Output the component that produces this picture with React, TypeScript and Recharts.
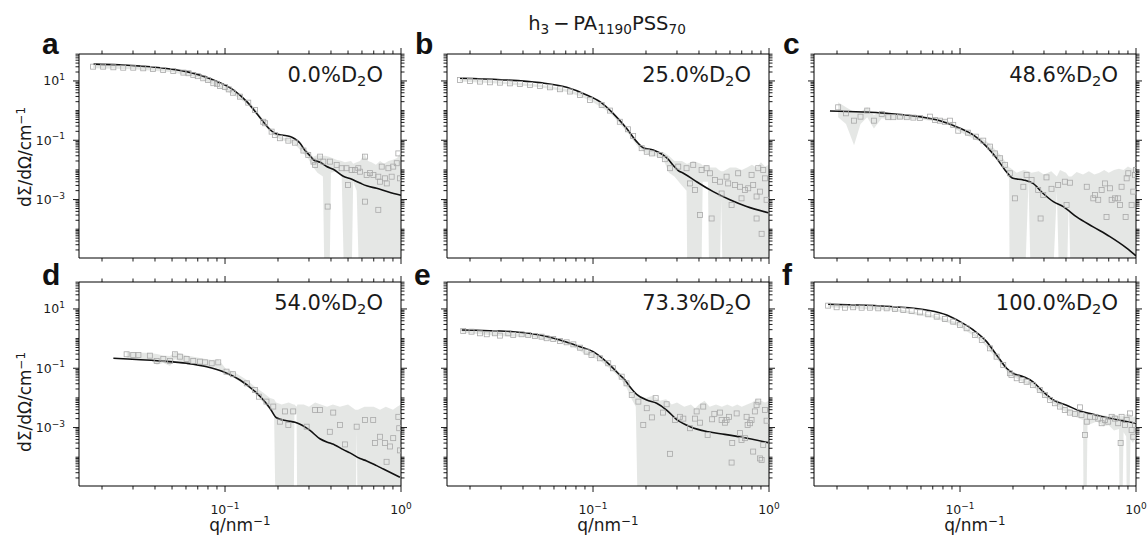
import React from "react";
import { ComposedChart, Area, Scatter, Line, XAxis, YAxis } from "recharts";

// axis ranges (log-log)
const Q_DOMAIN: [number, number] = [0.0148, 1.0];
const I_DOMAIN: [number, number] = [1.07e-5, 81];

const X_TICKS = [0.02, 0.03, 0.04, 0.05, 0.06, 0.07, 0.08, 0.09, 0.1, 0.2, 0.3, 0.4, 0.5, 0.6, 0.7, 0.8, 0.9, 1];
const X_MAJOR = [0.1, 1];
const X_EXP = ["−1", "0"];

const Y_TICKS = [
  80, 70, 60, 50, 40, 30, 20, 10,
  9, 8, 7, 6, 5, 4, 3, 2, 1,
  0.9, 0.8, 0.7, 0.6, 0.5, 0.4, 0.3, 0.2, 0.1,
  0.09, 0.08, 0.07, 0.06, 0.05, 0.04, 0.03, 0.02, 0.01,
  9e-3, 8e-3, 7e-3, 6e-3, 5e-3, 4e-3, 3e-3, 2e-3, 1e-3,
  9e-4, 8e-4, 7e-4, 6e-4, 5e-4, 4e-4, 3e-4, 2e-4, 1e-4,
  9e-5, 8e-5, 7e-5, 6e-5, 5e-5, 4e-5, 3e-5, 2e-5,
];
const Y_MAJOR = [10, 0.1, 1e-3];
const Y_EXP = ["1", "−1", "−3"];

const TITLE = [["h", 0], ["3", -1], ["\u2009−\u2009PA", 0], ["1190", -1], ["PSS", 0], ["70", -1]];
const Y_TITLE = [["dΣ/dΩ/cm", 0], ["−1", 1]];
const X_TITLE = [["q/nm", 0], ["−1", 1]];
const LETTERS = ["a", "b", "c", "d", "e", "f"];
const NOTES = ["0.0", "25.0", "48.6", "54.0", "73.3", "100.0"];

// ---- a: 0.0 % D2O ----
const fitA = [
  [0.0179, 37], [0.025, 35], [0.035, 31], [0.0428, 28], [0.0605, 20.6], [0.0859, 10.8], [0.1115, 5.0],
  [0.133, 2.0], [0.151, 0.81], [0.165, 0.42], [0.18, 0.23], [0.192, 0.172], [0.21, 0.15], [0.234, 0.135],
  [0.25, 0.11], [0.267, 0.079], [0.285, 0.045], [0.304, 0.03], [0.318, 0.022], [0.347, 0.018], [0.378, 0.013],
  [0.412, 0.0105], [0.47, 0.0061], [0.513, 0.0051], [0.585, 0.0036], [0.638, 0.0029], [0.727, 0.0024],
  [0.85, 0.0018], [1.0, 0.0014],
];
const dataA = [
  [0.0178, 30.3], [0.0203, 30.3], [0.0232, 28.9], [0.0264, 28], [0.0301, 28], [0.0343, 26.7], [0.039, 25.4],
  [0.0445, 23.4], [0.0508, 21.7], [0.058, 19.1], [0.062, 18.2], [0.066, 15.9], [0.07, 14.5], [0.0752, 12.3],
  [0.08, 10.8], [0.0858, 8.4], [0.09, 8.0], [0.0936, 6.8], [0.1, 6.2], [0.105, 5.2], [0.111, 4.0],
  [0.1215, 2.95], [0.1355, 1.85], [0.148, 1.05], [0.165, 0.42], [0.169, 0.374], [0.184, 0.195],
  [0.192, 0.151], [0.205, 0.117], [0.229, 0.097], [0.25, 0.083], [0.279, 0.045], [0.297, 0.032],
  [0.318, 0.019], [0.325, 0.0147], [0.347, 0.028], [0.362, 0.019], [0.383, 0.00058], [0.395, 0.019],
  [0.431, 0.0147], [0.46, 0.0114], [0.49, 0.0114], [0.5, 0.0031], [0.524, 0.01], [0.548, 0.01],
  [0.572, 0.0114], [0.585, 0.0087], [0.624, 0.028], [0.624, 0.00085], [0.638, 0.0067], [0.667, 0.0078],
  [0.697, 0.0067], [0.743, 0.0059], [0.743, 0.00045], [0.76, 0.004], [0.777, 0.0129], [0.811, 0.0052],
  [0.83, 0.0035], [0.848, 0.0114], [0.885, 0.0059], [0.903, 0.0129], [0.946, 0.0168], [0.966, 0.036],
  [0.986, 0.0052],
];
const bandA = [
  [0.0178, 27, 34], [0.03, 25, 31], [0.05, 19.5, 24], [0.07, 13, 16.5], [0.09, 6.5, 8.5], [0.111, 3.5, 4.6],
  [0.135, 1.6, 2.1], [0.148, 0.9, 1.2], [0.165, 0.36, 0.48], [0.184, 0.17, 0.22], [0.205, 0.105, 0.13],
  [0.229, 0.088, 0.11], [0.25, 0.072, 0.095], [0.279, 0.036, 0.056], [0.297, 0.024, 0.042],
  [0.318, 0.012, 0.028], [0.335, 0.008, 0.032], [0.36, 0.006, 0.03], [0.37, 1e-7, 0.03], [0.39, 1e-7, 0.028],
  [0.4, 0.008, 0.026], [0.43, 0.009, 0.022], [0.46, 0.007, 0.02], [0.48, 1e-7, 0.018], [0.52, 1e-7, 0.02],
  [0.535, 0.004, 0.016], [0.56, 0.002, 0.018], [0.585, 1e-7, 0.02], [0.62, 1e-7, 0.035], [0.65, 1e-7, 0.02],
  [0.68, 1e-7, 0.018], [0.72, 1e-7, 0.015], [0.76, 1e-7, 0.02], [0.8, 1e-7, 0.016], [0.85, 1e-7, 0.02],
  [0.9, 1e-7, 0.022], [0.95, 1e-7, 0.025], [1.0, 1e-7, 0.04],
];

// ---- b: 25.0 % D2O ----
const fitB = [
  [0.01754, 12.3], [0.03, 11], [0.0499, 8.75], [0.0708, 6.1], [0.092, 3.37], [0.1094, 2.0], [0.13, 0.81],
  [0.155, 0.254], [0.177, 0.0896], [0.193, 0.056], [0.22, 0.047], [0.25, 0.032], [0.27, 0.0216],
  [0.286, 0.014], [0.305, 0.0095], [0.326, 0.0077], [0.363, 0.0052], [0.388, 0.004], [0.482, 0.00185],
  [0.6, 0.00098], [0.746, 0.00058], [0.99, 0.00036],
];
const dataB = [
  [0.01754, 10.8], [0.02, 10], [0.0228, 9.5], [0.026, 9.0], [0.0296, 8.75], [0.0337, 8.3], [0.0384, 7.9],
  [0.0438, 7.3], [0.0499, 6.8], [0.0569, 6.1], [0.0649, 5.25], [0.074, 4.4], [0.0843, 3.37], [0.096, 2.28],
  [0.112, 1.55], [0.125, 1.0], [0.142, 0.42], [0.158, 0.234], [0.169, 0.139], [0.189, 0.054], [0.202, 0.041],
  [0.216, 0.036], [0.24, 0.032], [0.256, 0.023], [0.274, 0.0114], [0.305, 0.0129], [0.34, 0.0114],
  [0.356, 0.0035], [0.371, 0.0148], [0.38, 0.0021], [0.405, 0.0003], [0.414, 0.01], [0.442, 0.0114],
  [0.462, 0.0077], [0.472, 0.00023], [0.493, 0.0046], [0.526, 0.004], [0.538, 0.0016], [0.574, 0.0059],
  [0.586, 0.0035], [0.613, 0.00066], [0.64, 0.0031], [0.668, 0.0077], [0.684, 0.0027], [0.698, 0.0011],
  [0.73, 0.0021], [0.762, 0.0024], [0.796, 0.0068], [0.813, 0.0031], [0.85, 0.00127], [0.85, 0.00023],
  [0.869, 0.0114], [0.888, 0.00185], [0.908, 7e-5], [0.927, 0.01], [0.948, 0.0052], [0.969, 0.00098],
];
const bandB = [
  [0.0175, 9.5, 12], [0.03, 8, 9.6], [0.05, 6.1, 7.4], [0.07, 4.3, 5.3], [0.085, 3.0, 3.8], [0.1, 1.9, 2.4],
  [0.125, 0.85, 1.15], [0.142, 0.36, 0.48], [0.158, 0.17, 0.23], [0.18, 0.06, 0.085], [0.2, 0.036, 0.05],
  [0.22, 0.03, 0.042], [0.25, 0.024, 0.04], [0.27, 0.008, 0.03], [0.29, 0.006, 0.02], [0.32, 0.003, 0.02],
  [0.34, 0.002, 0.016], [0.345, 1e-7, 0.016], [0.37, 1e-7, 0.02], [0.41, 1e-7, 0.016], [0.42, 0.004, 0.014],
  [0.45, 0.004, 0.014], [0.46, 1e-7, 0.012], [0.5, 1e-7, 0.012], [0.52, 1e-7, 0.01], [0.535, 0.001, 0.009],
  [0.55, 1e-7, 0.009], [0.6, 1e-7, 0.012], [0.65, 1e-7, 0.012], [0.7, 1e-7, 0.01], [0.75, 1e-7, 0.012],
  [0.8, 1e-7, 0.015], [0.85, 1e-7, 0.012], [0.9, 1e-7, 0.018], [0.95, 1e-7, 0.013], [1.0, 1e-7, 0.015],
];

// ---- c: 48.6 % D2O ----
const fitC = [
  [0.01824, 0.97], [0.0383, 0.81], [0.0591, 0.625], [0.0769, 0.457], [0.1, 0.254], [0.119, 0.151],
  [0.1416, 0.061], [0.1614, 0.0247], [0.18, 0.01], [0.2, 0.0052], [0.229, 0.0046], [0.26, 0.0035],
  [0.297, 0.0016], [0.339, 0.00085], [0.386, 0.00058], [0.46, 0.00026], [0.571, 0.00012], [0.711, 5.6e-5],
  [0.885, 2.3e-5], [1.0, 1.27e-5],
];
const dataC = [
  [0.0203, 1.29], [0.0225, 0.81], [0.025, 0.457], [0.0272, 0.625], [0.0297, 1.0], [0.0324, 0.457],
  [0.0359, 0.77], [0.0391, 0.6], [0.0418, 0.6], [0.0456, 0.625], [0.0498, 0.6], [0.0543, 0.58],
  [0.0592, 0.56], [0.0675, 0.625], [0.0721, 0.48], [0.0769, 0.457], [0.082, 0.42], [0.0877, 0.457],
  [0.0915, 0.33], [0.0977, 0.21], [0.111, 0.18], [0.123, 0.132], [0.1355, 0.097], [0.148, 0.061],
  [0.158, 0.036], [0.169, 0.0247], [0.18, 0.0148], [0.192, 0.0077], [0.205, 0.0011], [0.229, 0.0027],
  [0.239, 0.0068], [0.255, 0.0046], [0.278, 0.0021], [0.287, 0.00023], [0.297, 0.00143], [0.31, 0.0056],
  [0.331, 0.0023], [0.361, 0.0031], [0.394, 0.004], [0.403, 0.00066], [0.421, 0.0037], [0.525, 0.0027],
  [0.572, 0.0011], [0.585, 0.00143], [0.61, 0.00098], [0.638, 0.0021], [0.666, 0.0035], [0.68, 0.00026],
  [0.711, 0.0024], [0.727, 0.00098], [0.759, 0.0011], [0.792, 0.0011], [0.81, 0.00066], [0.828, 0.0027],
  [0.873, 0.00026], [0.885, 0.0052], [0.904, 0.0077], [0.944, 0.00066], [0.965, 0.00185], [0.986, 0.0068],
  [1.0, 0.01],
];
const bandC = [
  [0.0203, 0.6, 1.9], [0.0225, 0.35, 1.3], [0.025, 0.068, 0.9], [0.0272, 0.35, 0.9], [0.0297, 0.6, 1.3],
  [0.0324, 0.25, 0.7], [0.0359, 0.55, 1.0], [0.04, 0.5, 0.72], [0.05, 0.52, 0.68], [0.06, 0.5, 0.63],
  [0.07, 0.45, 0.6], [0.08, 0.38, 0.5], [0.09, 0.29, 0.4], [0.1, 0.19, 0.24], [0.12, 0.11, 0.15],
  [0.135, 0.08, 0.11], [0.148, 0.045, 0.075], [0.16, 0.025, 0.045], [0.17, 0.017, 0.032], [0.18, 0.01, 0.02],
  [0.19, 0.005, 0.012], [0.192, 1e-7, 0.012], [0.21, 1e-7, 0.008], [0.23, 1e-7, 0.01], [0.245, 0.004, 0.009],
  [0.255, 1e-7, 0.008], [0.28, 1e-7, 0.009], [0.3, 1e-7, 0.007], [0.33, 1e-7, 0.009], [0.355, 0.002, 0.006],
  [0.37, 1e-7, 0.01], [0.4, 1e-7, 0.008], [0.415, 0.001, 0.006], [0.43, 1e-7, 0.006], [0.46, 1e-7, 0.0085],
  [0.5, 1e-7, 0.007], [0.54, 1e-7, 0.009], [0.58, 1e-7, 0.007], [0.62, 1e-7, 0.008], [0.66, 1e-7, 0.01],
  [0.7, 1e-7, 0.008], [0.75, 1e-7, 0.01], [0.8, 1e-7, 0.011], [0.85, 1e-7, 0.01], [0.9, 1e-7, 0.013],
  [0.95, 1e-7, 0.011], [1.0, 1e-7, 0.014],
];

// ---- d: 54.0 % D2O ----
const fitD = [
  [0.0232, 0.217], [0.0427, 0.176], [0.0605, 0.147], [0.0787, 0.113], [0.0978, 0.0767], [0.1216, 0.0403],
  [0.1446, 0.0185], [0.16, 0.0105], [0.18, 0.0045], [0.196, 0.00215], [0.224, 0.0017], [0.25, 0.0015],
  [0.267, 0.0013], [0.304, 0.0008], [0.346, 0.00042], [0.394, 0.0003], [0.42, 0.00026], [0.47, 0.00018],
  [0.513, 0.00014], [0.585, 9e-5], [0.638, 7.5e-5], [0.727, 5.2e-5], [0.794, 4e-5], [0.986, 2.1e-5],
];
const dataD = [
  [0.0276, 0.296], [0.0301, 0.28], [0.0322, 0.28], [0.0374, 0.266], [0.0409, 0.176], [0.0446, 0.206],
  [0.0487, 0.176], [0.0519, 0.296], [0.0554, 0.246], [0.0605, 0.206], [0.066, 0.176], [0.0721, 0.167],
  [0.0769, 0.158], [0.084, 0.147], [0.0915, 0.158], [0.102, 0.0767], [0.111, 0.063], [0.133, 0.031],
  [0.148, 0.0185], [0.156, 0.011], [0.172, 0.0075], [0.188, 0.0051], [0.205, 0.00158], [0.219, 0.0035],
  [0.229, 0.00123], [0.244, 0.0035], [0.291, 0.00107], [0.325, 0.0039], [0.346, 0.0039], [0.394, 0.00072],
  [0.412, 0.0032], [0.45, 0.00123], [0.48, 0.00027], [0.56, 0.00107], [0.624, 0.0018], [0.695, 0.0018],
  [0.711, 0.0003], [0.759, 0.00049], [0.81, 0.0003], [0.828, 7e-5], [0.865, 0.00023], [0.903, 0.00044],
  [0.966, 0.0023], [0.977, 0.00095], [0.986, 0.00017],
];
const bandD = [
  [0.0276, 0.22, 0.36], [0.032, 0.21, 0.34], [0.0374, 0.19, 0.33], [0.041, 0.13, 0.3], [0.0446, 0.15, 0.27],
  [0.0487, 0.12, 0.26], [0.0519, 0.2, 0.36], [0.0605, 0.14, 0.27], [0.0721, 0.12, 0.22], [0.084, 0.11, 0.19],
  [0.0915, 0.1, 0.2], [0.102, 0.06, 0.09], [0.111, 0.05, 0.08], [0.133, 0.025, 0.04], [0.148, 0.014, 0.024],
  [0.165, 0.007, 0.015], [0.18, 0.004, 0.01], [0.19, 0.003, 0.009], [0.195, 1e-7, 0.007], [0.21, 1e-7, 0.006],
  [0.23, 1e-7, 0.007], [0.245, 1e-7, 0.006], [0.248, 0.003, 0.006], [0.255, 0.003, 0.005], [0.258, 1e-7, 0.006],
  [0.28, 1e-7, 0.006], [0.3, 1e-7, 0.005], [0.325, 1e-7, 0.007], [0.35, 1e-7, 0.006], [0.38, 1e-7, 0.005],
  [0.41, 1e-7, 0.006], [0.45, 1e-7, 0.005], [0.5, 1e-7, 0.006], [0.55, 1e-7, 0.004], [0.56, 0.0008, 0.004],
  [0.57, 1e-7, 0.004], [0.62, 1e-7, 0.005], [0.7, 1e-7, 0.005], [0.76, 1e-7, 0.004], [0.82, 1e-7, 0.005],
  [0.9, 1e-7, 0.004], [0.95, 1e-7, 0.005], [1.0, 1e-7, 0.006],
];

// ---- e: 73.3 % D2O ----
const fitE = [
  [0.01795, 1.95], [0.0352, 1.71], [0.0499, 1.32], [0.0649, 0.9], [0.0843, 0.535], [0.1003, 0.363],
  [0.119, 0.167], [0.142, 0.059], [0.152, 0.04], [0.162, 0.024], [0.177, 0.0132], [0.202, 0.0085],
  [0.23, 0.0066], [0.262, 0.0039], [0.298, 0.0019], [0.356, 0.00107], [0.452, 0.00072], [0.56, 0.00059],
  [0.7, 0.00047], [0.99, 0.00031],
];
const dataE = [
  [0.0183, 1.81], [0.0204, 1.71], [0.0228, 1.51], [0.0249, 1.4], [0.0277, 1.51], [0.0296, 1.26], [0.033, 1.51],
  [0.0352, 1.33], [0.0393, 1.4], [0.0428, 1.33], [0.0468, 1.23], [0.051, 1.16], [0.0545, 1.03], [0.0594, 0.97],
  [0.0649, 0.83], [0.0708, 0.75], [0.0773, 0.64], [0.0843, 0.494], [0.092, 0.363], [0.098, 0.28],
  [0.1094, 0.217], [0.122, 0.147], [0.13, 0.1], [0.1455, 0.052], [0.155, 0.031], [0.166, 0.0125],
  [0.181, 0.0075], [0.193, 0.00123], [0.202, 0.0045], [0.216, 0.0022], [0.227, 0.0098], [0.25, 0.0032],
  [0.262, 0.0061], [0.274, 0.00013], [0.292, 0.0018], [0.312, 0.0023], [0.326, 0.002], [0.356, 0.00095],
  [0.38, 0.002], [0.388, 0.0035], [0.405, 0.00146], [0.423, 0.0051], [0.448, 0.00056], [0.475, 0.0019],
  [0.489, 0.0029], [0.526, 0.0032], [0.538, 0.0018], [0.562, 0.00146], [0.574, 0.0018], [0.592, 0.0023],
  [0.613, 6.6e-5], [0.618, 0.0003], [0.655, 0.003], [0.684, 0.00065], [0.698, 0.00038], [0.73, 0.00044],
  [0.746, 0.0023], [0.756, 0.00123], [0.78, 0.0014], [0.796, 0.0018], [0.813, 0.000155], [0.831, 0.0035],
  [0.85, 0.0057], [0.869, 0.0075], [0.888, 9.1e-5], [0.908, 8.1e-5], [0.927, 0.00026], [0.948, 0.0039],
  [0.969, 0.0017],
];
const bandE = [
  [0.018, 1.6, 2.0], [0.03, 1.2, 1.6], [0.045, 1.1, 1.4], [0.06, 0.85, 1.05], [0.075, 0.6, 0.75],
  [0.09, 0.3, 0.42], [0.11, 0.18, 0.25], [0.13, 0.08, 0.12], [0.145, 0.04, 0.06], [0.155, 0.022, 0.04],
  [0.166, 0.009, 0.016], [0.175, 0.005, 0.012], [0.181, 1e-7, 0.012], [0.2, 1e-7, 0.01], [0.22, 1e-7, 0.012],
  [0.24, 1e-7, 0.008], [0.26, 1e-7, 0.009], [0.28, 1e-7, 0.006], [0.3, 1e-7, 0.007], [0.33, 1e-7, 0.005],
  [0.36, 1e-7, 0.006], [0.38, 1e-7, 0.0045], [0.4, 1e-7, 0.006], [0.43, 1e-7, 0.008], [0.46, 1e-7, 0.005],
  [0.5, 1e-7, 0.006], [0.54, 1e-7, 0.005], [0.58, 1e-7, 0.006], [0.62, 1e-7, 0.005], [0.66, 1e-7, 0.006],
  [0.7, 1e-7, 0.005], [0.75, 1e-7, 0.006], [0.8, 1e-7, 0.007], [0.85, 1e-7, 0.009], [0.9, 1e-7, 0.008],
  [0.95, 1e-7, 0.007], [1.0, 1e-7, 0.008],
];

// ---- f: 100.0 % D2O ----
const fitF = [
  [0.0178, 14.4], [0.0418, 11.9], [0.0646, 9.25], [0.084, 6.27], [0.1, 3.73], [0.119, 1.95], [0.1416, 0.79],
  [0.1614, 0.28], [0.184, 0.1], [0.2, 0.068], [0.229, 0.052], [0.26, 0.035], [0.297, 0.0162], [0.339, 0.0085],
  [0.403, 0.0057], [0.48, 0.0036], [0.571, 0.0028], [0.711, 0.00205], [1.0, 0.0014],
];
const dataF = [
  [0.0178, 12.9], [0.0199, 11.4], [0.0222, 11.0], [0.0247, 11.4], [0.0276, 11.0], [0.0308, 11.0],
  [0.0343, 10.5], [0.0383, 10.5], [0.0427, 10.0], [0.0476, 9.25], [0.0531, 8.6], [0.0592, 7.7], [0.066, 6.6],
  [0.0737, 5.5], [0.082, 4.6], [0.0915, 3.73], [0.1, 2.88], [0.109, 2.23], [0.1216, 1.33], [0.133, 0.9],
  [0.148, 0.47], [0.1614, 0.246], [0.176, 0.129], [0.192, 0.068], [0.196, 0.059], [0.21, 0.046], [0.224, 0.04],
  [0.239, 0.035], [0.26, 0.027], [0.284, 0.0185], [0.304, 0.0125], [0.325, 0.0085], [0.346, 0.0066],
  [0.37, 0.0051], [0.394, 0.0039], [0.421, 0.0032], [0.45, 0.0029], [0.48, 0.0048], [0.49, 0.00266],
  [0.513, 0.00056], [0.525, 0.00158], [0.547, 0.0023], [0.585, 0.0023], [0.61, 0.002], [0.638, 0.0014],
  [0.666, 0.0018], [0.695, 0.00158], [0.727, 0.0023], [0.759, 0.002], [0.792, 0.0014], [0.818, 0.0003],
  [0.828, 0.0023], [0.865, 0.00123], [0.885, 0.0018], [0.924, 0.003], [0.944, 0.00083], [0.965, 0.00049],
  [0.986, 0.00123],
];
const bandF = [
  [0.0178, 11.5, 14.5], [0.04, 9, 11], [0.07, 5.0, 6.2], [0.1, 2.5, 3.3], [0.133, 0.8, 1.0], [0.16, 0.22, 0.3],
  [0.192, 0.06, 0.08], [0.224, 0.036, 0.046], [0.26, 0.024, 0.031], [0.3, 0.011, 0.015], [0.35, 0.0055, 0.0078],
  [0.4, 0.0033, 0.0047], [0.45, 0.0023, 0.0036], [0.5, 0.0018, 0.003], [0.505, 1e-7, 0.003], [0.52, 1e-7, 0.003],
  [0.53, 0.0012, 0.0028], [0.6, 0.0016, 0.0028], [0.65, 0.0011, 0.0026], [0.7, 0.0012, 0.0024],
  [0.75, 0.0008, 0.0028], [0.8, 0.0009, 0.0024], [0.81, 1e-7, 0.0025], [0.83, 1e-7, 0.0026],
  [0.85, 0.0007, 0.0024], [0.88, 0.0005, 0.0028], [0.89, 1e-7, 0.0028], [0.91, 1e-7, 0.003],
  [0.93, 0.0004, 0.0027], [0.96, 0.0003, 0.0022], [1.0, 0.0005, 0.0025],
];

const PANELS = [
  { fit: fitA, data: dataA, band: bandA },
  { fit: fitB, data: dataB, band: bandB },
  { fit: fitC, data: dataC, band: bandC },
  { fit: fitD, data: dataD, band: bandD },
  { fit: fitE, data: dataE, band: bandE },
  { fit: fitF, data: dataF, band: bandF },
];

// layout
const PLOT_W = 322;
const PLOT_H = 204;
const COL_LEFT = [79, 447, 814];
const ROW_TOP = [54, 282];
const PAD_L = 50;
const PAD_R = 12;
const PAD_T = 12;
const PAD_B = 40;
const MAJOR_LEN = 6;
const MINOR_LEN = 3.5;
const FONT = "DejaVu Sans, sans-serif";
const INK = "#1a1a1a";

function XTick(props: any) {
  const { x, y, payload, side, labels } = props;
  const idx = X_MAJOR.indexOf(payload.value);
  const len = idx >= 0 ? MAJOR_LEN : MINOR_LEN;
  const dir = side === "bottom" ? 1 : -1;
  return (
    <g>
      <line x1={x} x2={x} y1={y} y2={y + dir * len} stroke="#000" strokeWidth={0.9} />
      {labels && idx >= 0 && (
        <text x={x} y={y + 28} textAnchor="middle" fontSize={12.5} fill={INK} fontFamily={FONT}>
          10<tspan dy={-5.5} fontSize={9}>{X_EXP[idx]}</tspan>
        </text>
      )}
    </g>
  );
}

function YTick(props: any) {
  const { x, y, payload, side, labels } = props;
  const idx = Y_MAJOR.indexOf(payload.value);
  const len = idx >= 0 ? MAJOR_LEN : MINOR_LEN;
  const dir = side === "left" ? -1 : 1;
  return (
    <g>
      <line x1={x} x2={x + dir * len} y1={y} y2={y} stroke="#000" strokeWidth={0.9} />
      {labels && idx >= 0 && (
        <text x={x - 14} y={y + 4.5} textAnchor="end" fontSize={12.5} fill={INK} fontFamily={FONT}>
          10<tspan dy={-5.5} fontSize={9}>{Y_EXP[idx]}</tspan>
        </text>
      )}
    </g>
  );
}

function Square(props: any) {
  const { cx, cy } = props;
  if (cx == null || cy == null) return null;
  return <rect x={cx - 2.5} y={cy - 2.5} width={5} height={5} fill="none" stroke="#a9a9a9" strokeWidth={0.8} />;
}

function Panel({ index }: { index: number }) {
  const p = PANELS[index];
  const col = index % 3;
  const row = Math.floor(index / 3);
  const bandData = p.band.map(([q, lo, hi]) => ({ q, range: [lo, hi] }));
  const pointData = p.data.map(([q, I]) => ({ q, I }));
  const fitData = p.fit.map(([q, I]) => ({ q, I }));
  const showX = row === 1;
  const showY = col === 0;
  const common = { type: "number" as const, scale: "log" as const, allowDataOverflow: true, interval: 0 as const, tickSize: 0, tickMargin: 0, tickLine: false, axisLine: { stroke: "#000", strokeWidth: 1 } };
  return (
    <div style={{ position: "absolute", left: COL_LEFT[col] - PAD_L, top: ROW_TOP[row] - PAD_T }}>
      <ComposedChart
        width={PAD_L + PLOT_W + PAD_R}
        height={PAD_T + PLOT_H + PAD_B}
        data={bandData}
        margin={{ top: 0, right: 0, bottom: 0, left: 0 }}
      >
        <XAxis {...common} xAxisId="bottom" orientation="bottom" dataKey="q" domain={Q_DOMAIN} ticks={X_TICKS} height={PAD_B}
          tick={(t: any) => <XTick {...t} side="bottom" labels={showX} />} />
        <XAxis {...common} xAxisId="top" orientation="top" dataKey="q" domain={Q_DOMAIN} ticks={X_TICKS} height={PAD_T}
          tick={(t: any) => <XTick {...t} side="top" labels={false} />} />
        <YAxis {...common} yAxisId="left" orientation="left" domain={I_DOMAIN} ticks={Y_TICKS} width={PAD_L}
          tick={(t: any) => <YTick {...t} side="left" labels={showY} />} />
        <YAxis {...common} yAxisId="right" orientation="right" domain={I_DOMAIN} ticks={Y_TICKS} width={PAD_R}
          tick={(t: any) => <YTick {...t} side="right" labels={false} />} />
        <Area xAxisId="bottom" yAxisId="left" type="linear" dataKey="range" fill="#dfe1df" fillOpacity={0.8}
          stroke="none" isAnimationActive={false} />
        <Scatter xAxisId="bottom" yAxisId="left" data={pointData} dataKey="I" shape={Square} isAnimationActive={false} />
        <Line xAxisId="bottom" yAxisId="left" data={fitData} dataKey="I" type="monotone" stroke="#111"
          strokeWidth={1.6} dot={false} activeDot={false} isAnimationActive={false} />
      </ComposedChart>
    </div>
  );
}

function Rich({ x, y, segs, size, anchor = "start", rotate = false, weight = "normal", family = FONT }: any) {
  let cur = 0;
  const parts = segs.map(([t, s]: [string, number], i: number) => {
    const target = s === 1 ? -0.38 * size : s === -1 ? 0.22 * size : 0;
    const dy = target - cur;
    cur = target;
    return (
      <tspan key={i} dy={dy} fontSize={s ? size * 0.7 : size}>{t}</tspan>
    );
  });
  return (
    <text x={x} y={y} textAnchor={anchor} fontSize={size} fontFamily={family} fontWeight={weight} fill={INK}
      transform={rotate ? `rotate(-90 ${x} ${y})` : undefined}>
      {parts}
    </text>
  );
}

export default function App() {
  const letterPos = [[42, 54], [415, 54], [783, 54], [42, 285], [414, 285], [782, 285]];
  return (
    <div style={{ position: "absolute", left: 0, top: 0, width: 1148, height: 537, background: "#fff", overflow: "hidden" }}>
      {PANELS.map((_, i) => <Panel key={i} index={i} />)}
      <svg width={1148} height={537} style={{ position: "absolute", left: 0, top: 0, pointerEvents: "none" }}>
        <Rich x={607} y={30} segs={TITLE} size={19.5} anchor="middle" />
        {LETTERS.map((l, i) => (
          <text key={l} x={letterPos[i][0]} y={letterPos[i][1]} fontSize={30} fontWeight="bold"
            fontFamily="Liberation Sans, Arial, sans-serif" fill="#111">{l}</text>
        ))}
        {NOTES.map((n, i) => {
          const col = i % 3;
          const row = Math.floor(i / 3);
          return (
            <Rich key={n} x={COL_LEFT[col] + PLOT_W - 18} y={ROW_TOP[row] + 27.7}
              segs={[[n + "%D", 0], ["2", -1], ["O", 0]]} size={21} anchor="end" />
          );
        })}
        <Rich x={31} y={157} segs={Y_TITLE} size={17} anchor="middle" rotate />
        <Rich x={31} y={402} segs={Y_TITLE} size={17} anchor="middle" rotate />
        {COL_LEFT.map((l) => (
          <Rich key={l} x={l + PLOT_W / 2} y={531} segs={X_TITLE} size={17} anchor="middle" />
        ))}
      </svg>
    </div>
  );
}
